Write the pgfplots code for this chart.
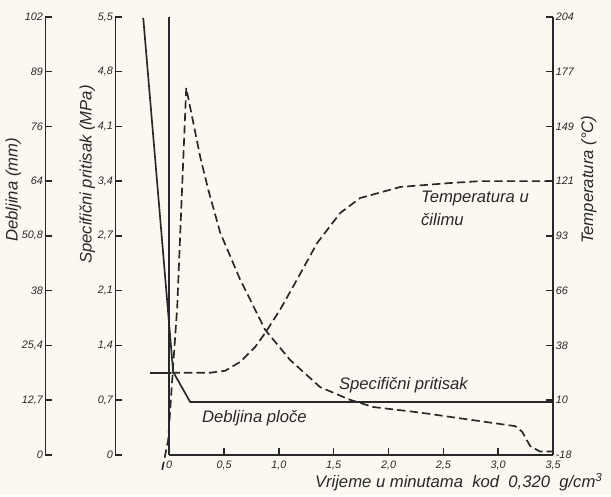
\documentclass[border=0pt]{standalone}
\usepackage{fontspec}
\setmainfont{Liberation Sans}
\usepackage{pgfplots}
\pgfplotsset{compat=1.18}
\definecolor{paper}{RGB}{250,248,240}
\definecolor{ink}{RGB}{40,40,40}
\begin{document}
\begin{tikzpicture}[font=\itshape]
\fill[paper] (0,0) rectangle (366.6pt,297pt);
\pgfplotsset{
  base/.style={
    scale only axis, height=262.8pt, at={(331.8pt,24pt)}, anchor=south east,
    xmax=3.5, clip=false, tick align=inside, major tick length=4.2pt,
    axis line style={ink, line width=0.9pt},
    every tick/.append style={ink, line width=0.9pt},
    tick label style={font=\fontsize{6.5}{8}\selectfont\itshape, text=ink},
    label style={font=\itshape, text=ink},
    /pgf/number format/assume math mode=true,
  },
}
% Debljina axis (thickness)
\begin{axis}[base, width=304.8pt, xmin=-1.13, ymin=0, ymax=102,
  axis x line=none, axis y line*=left,
  yticklabel style={inner sep=1.2pt},
  ytick={0,12.75,25.5,38.25,51,63.75,76.5,89.25,102},
  yticklabels={0,{12,7},{25,4},38,{50,8},64,76,89,102},
  ylabel={Debljina (mm)},
  ylabel style={at={(axis description cs:-0.063,0.605)}, anchor=center}]
\addplot[ink, line width=1pt] coordinates {
 (-0.237,101.8) (0.036,19.3) (0.191,12.3) (3.5,12.3)};
\end{axis}
% Pressure axis
\begin{axis}[base, width=262.8pt, xmin=-0.492, ymin=0, ymax=5.5,
  axis x line=none, axis y line*=left,
  yticklabel style={inner sep=1.2pt},
  ytick={0,0.6875,1.375,2.0625,2.75,3.4375,4.125,4.8125,5.5},
  yticklabels={0,{0,7},{1,4},{2,1},{2,7},{3,4},{4,1},{4,8},{5,5}},
  ylabel={Specifični pritisak (MPa)},
  ylabel style={at={(axis description cs:-0.064,0.64)}, anchor=center}]
\addplot[ink, line width=1pt, dash pattern=on 5pt off 2.5pt] coordinates {
 (-0.064,-0.19) (-0.009,0.19) (0.027,0.94) (0.073,1.86) (0.155,4.61)
 (0.283,3.74) (0.356,3.33) (0.465,2.79) (0.647,2.20) (0.875,1.57)
 (1.103,1.19) (1.376,0.85) (1.650,0.69) (1.860,0.60) (2.288,0.53)
 (2.744,0.44) (3.154,0.36) (3.218,0.29) (3.291,0.11) (3.382,0.04) (3.5,0.04)};
\end{axis}
% Main axis: time and temperature
\begin{axis}[base, width=230.4pt, xmin=0, ymin=-18, ymax=204,
  axis x line*=bottom, axis y line*=box, ytick pos=right,
  yticklabel style={inner sep=1.5pt},
  xtick={0,0.5,1,1.5,2,2.5,3,3.5},
  xticklabels={0,{0,5},{1,0},{1,5},{2,0},{2,5},{3,0},{3,5}},
  ytick={-18,9.75,37.5,65.25,93,120.75,148.5,176.25,204},
  yticklabels={-18,10,38,66,93,121,149,177,204},
  xlabel={Vrijeme u minutama\ \ kod\ \ 0,320\ \ g/cm\textsuperscript{3}},
  xlabel style={at={(axis description cs:0.755,-0.062)}, anchor=center},
  ylabel={Temperatura (°C)},
  ylabel style={at={(axis description cs:1.093,0.628)}, anchor=center}]
\addplot[ink, line width=1pt] coordinates {(-0.173,23.6) (0.02,23.6)};
\addplot[ink, line width=1pt, dash pattern=on 5pt off 2.5pt] coordinates {
 (0.02,23.6) (0.374,23.6) (0.51,24.6) (0.647,29.1) (0.784,36.7) (0.875,43.8)
 (1.01,55.5) (1.149,69.2) (1.349,89.4) (1.559,104.6) (1.741,112.2)
 (2.106,117.8) (2.56,119.8) (2.835,120.75) (3.5,120.75)};
\node[anchor=west, text=ink] at (axis cs:2.243,112.2) {Temperatura u};
\node[anchor=west, text=ink] at (axis cs:2.243,101.1) {čilimu};
\node[anchor=west, text=ink] at (axis cs:1.495,17.5) {Specifični pritisak};
\node[anchor=west, text=ink] at (axis cs:0.246,0.75) {Debljina ploče};
\end{axis}
\end{tikzpicture}
\end{document}
